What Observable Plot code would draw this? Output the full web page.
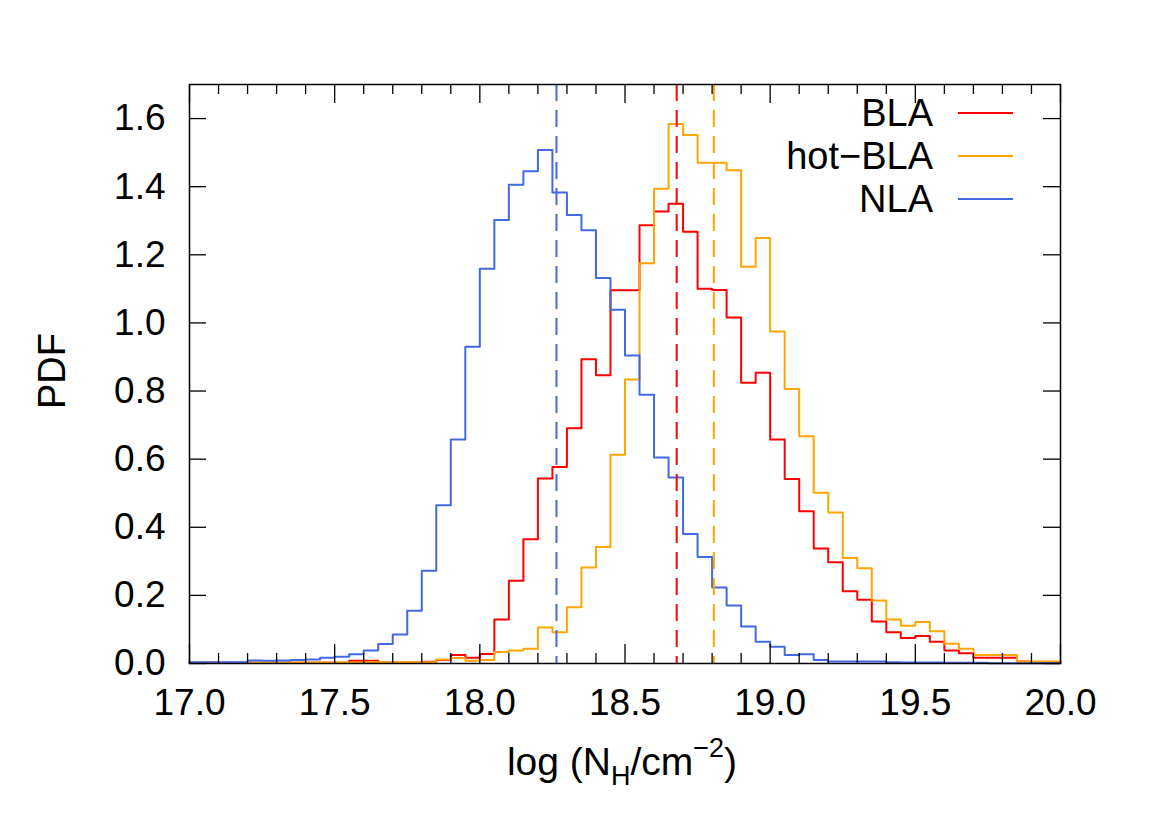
<!DOCTYPE html>
<html>
<head>
<meta charset="utf-8">
<script src="https://cdn.jsdelivr.net/npm/d3@7"></script>
<script src="https://cdn.jsdelivr.net/npm/@observablehq/plot@0.6"></script>
<style>
  body { margin: 0; background: #fff; }
  #chart { position: relative; width: 1170px; height: 827px; }
</style>
</head>
<body>
<div id="chart"></div>
<script>
// ---------- data ----------
const seriesNames  = ["BLA", "hot-BLA", "NLA"];
const seriesColors = ["#ff0000", "#ffa500", "#4169e1"];
const binStart = 17.0;
const binWidth = 0.05;
const binEnd = 20.0;

// PDF values per 0.05-dex bin, starting at 17.00
const blaPDF = [
  0.002, 0.002, 0.002, 0.002, 0.002, 0.002, 0.002, 0.002, 0.002, 0.002,
  0.002, 0.008, 0.008, 0.003, 0.003, 0.003, 0.005, 0.010, 0.025, 0.017,
  0.028, 0.129, 0.243, 0.365, 0.543, 0.577, 0.691, 0.893, 0.846, 1.096,
  1.096, 1.287, 1.327, 1.350, 1.268, 1.100, 1.097, 1.016, 0.824, 0.854,
  0.658, 0.542, 0.447, 0.338, 0.297, 0.212, 0.187, 0.123, 0.092, 0.075,
  0.081, 0.064, 0.038, 0.030, 0.017, 0.017, 0.017, 0.006, 0.004, 0.004
];
const hotBlaPDF = [
  0.003, 0.003, 0.003, 0.003, 0.003, 0.003, 0.003, 0.003, 0.003, 0.003,
  0.003, 0.003, 0.004, 0.004, 0.004, 0.004, 0.004, 0.012, 0.016, 0.008,
  0.010, 0.034, 0.038, 0.043, 0.106, 0.092, 0.165, 0.282, 0.342, 0.613,
  0.834, 1.175, 1.394, 1.584, 1.552, 1.470, 1.470, 1.448, 1.165, 1.249,
  0.975, 0.806, 0.667, 0.501, 0.443, 0.310, 0.280, 0.185, 0.129, 0.111,
  0.122, 0.095, 0.058, 0.043, 0.025, 0.025, 0.025, 0.006, 0.006, 0.006
];
const nlaPDF = [
  0.004, 0.004, 0.004, 0.004, 0.009, 0.008, 0.009, 0.010, 0.012, 0.017,
  0.020, 0.027, 0.038, 0.057, 0.085, 0.155, 0.272, 0.465, 0.658, 0.930,
  1.159, 1.302, 1.406, 1.445, 1.508, 1.383, 1.317, 1.272, 1.132, 1.039,
  0.904, 0.789, 0.605, 0.546, 0.380, 0.313, 0.223, 0.170, 0.109, 0.064,
  0.049, 0.025, 0.027, 0.010, 0.006, 0.006, 0.006, 0.006, 0.004, 0.003,
  0.003, 0.003, 0.002, 0.002, 0.002, 0.001, 0.001, 0.001, 0.001, 0.001
];
// median values (dashed vertical lines)
const medians = [18.678, 18.806, 18.264];

const xTicksMajor = [17.0, 17.5, 18.0, 18.5, 19.0, 19.5, 20.0];
const xTicksMinor = [17.1, 17.2, 17.3, 17.4, 17.6, 17.7, 17.8, 17.9,
                     18.1, 18.2, 18.3, 18.4, 18.6, 18.7, 18.8, 18.9,
                     19.1, 19.2, 19.3, 19.4, 19.6, 19.7, 19.8, 19.9];
const yTicks = [0.0, 0.2, 0.4, 0.6, 0.8, 1.0, 1.2, 1.4, 1.6];

// ---------- build tables ----------
const allPDF = [blaPDF, hotBlaPDF, nlaPDF];
const steps = [];
allPDF.forEach((vals, s) => {
  vals.forEach((v, i) => steps.push({series: seriesNames[s], x: binStart + i * binWidth, y: v}));
  steps.push({series: seriesNames[s], x: binEnd, y: vals[vals.length - 1]});
});
const medianRows = medians.map((m, s) => ({series: seriesNames[s], x: m}));

// ---------- layout ----------
const W = 1170, H = 827;
const mL = 189, mR = 110, mT = 84, mB = 164;
const innerW = W - mL - mR, innerH = H - mT - mB;
const FONT = "'Liberation Sans', Arial, Helvetica, sans-serif";

const chart = Plot.plot({
  width: W,
  height: H,
  marginLeft: mL, marginRight: mR, marginTop: mT, marginBottom: mB,
  style: {fontFamily: FONT, fontSize: "37px", background: "#fff", color: "#000"},
  x: {domain: [17, 20], axis: null},
  y: {domain: [0, 1.7], axis: null},
  color: {domain: seriesNames, range: seriesColors},
  marks: [
    Plot.line(steps, {x: "x", y: "y", z: "series", stroke: "series", curve: "step-after", strokeWidth: 2}),
    Plot.ruleX(medianRows, {x: "x", stroke: "series", strokeWidth: 2, strokeDasharray: "17,9"}),
    // ticks (inside, mirrored)
    Plot.tickX(xTicksMajor, {x: d => d, insetTop: innerH - 19, stroke: "#000", strokeWidth: 1.3}),
    Plot.tickX(xTicksMajor, {x: d => d, insetBottom: innerH - 19, stroke: "#000", strokeWidth: 1.3}),
    Plot.tickX(xTicksMinor, {x: d => d, insetTop: innerH - 10, stroke: "#000", strokeWidth: 1.3}),
    Plot.tickX(xTicksMinor, {x: d => d, insetBottom: innerH - 10, stroke: "#000", strokeWidth: 1.3}),
    Plot.tickY(yTicks, {y: d => d, insetRight: innerW - 17, stroke: "#000", strokeWidth: 1.3}),
    Plot.tickY(yTicks, {y: d => d, insetLeft: innerW - 17, stroke: "#000", strokeWidth: 1.3}),
    Plot.frame({stroke: "#000", strokeWidth: 1.5}),
    Plot.axisX({ticks: xTicksMajor, tickSize: 0, tickPadding: 25, tickFormat: d => d.toFixed(1), fontSize: 37, label: null}),
    Plot.axisY({ticks: yTicks, tickSize: 0, tickPadding: 24, tickFormat: d => d.toFixed(1), fontSize: 37, label: null})
  ]
});
document.getElementById("chart").appendChild(chart);

// ---------- titles & legend ----------
const svg = d3.select(chart);
const xl = svg.append("text")
  .attr("x", 622).attr("y", 775)
  .attr("text-anchor", "middle")
  .attr("font-family", FONT).attr("font-size", 39).attr("fill", "#000");
xl.append("tspan").text("log (N");
xl.append("tspan").attr("font-size", 27).attr("dy", 10).text("H");
xl.append("tspan").attr("dy", -10).text("/cm");
xl.append("tspan").attr("font-size", 27).attr("dy", -18).text("\u22122");
xl.append("tspan").attr("dy", 18).text(")");

svg.append("text")
  .attr("transform", "translate(65,371) rotate(-90)")
  .attr("text-anchor", "middle")
  .attr("font-family", FONT).attr("font-size", 38).attr("fill", "#000")
  .text("PDF");

const legendRows = [113, 156, 199];
seriesNames.forEach((name, i) => {
  const cy = legendRows[i];
  svg.append("text")
    .attr("x", 933).attr("y", cy + 13)
    .attr("text-anchor", "end")
    .attr("font-family", FONT).attr("font-size", 38).attr("fill", "#000")
    .text(name.replace("-", "\u2212"));
  svg.append("line")
    .attr("x1", 958).attr("x2", 1013).attr("y1", cy).attr("y2", cy)
    .attr("stroke", seriesColors[i]).attr("stroke-width", 2);
});
</script>
</body>
</html>
